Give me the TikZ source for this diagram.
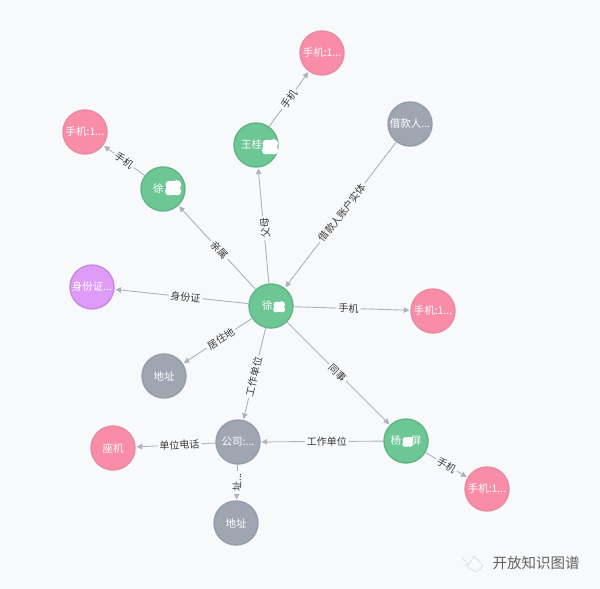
\documentclass[tikz,border=0pt]{standalone}
\usepackage{fontspec}
\setmainfont{Noto Sans CJK SC}
\usetikzlibrary{arrows.meta}
\definecolor{bgc}{HTML}{F8F9FB}
\definecolor{edgec}{HTML}{ADB2BD}
\definecolor{lblc}{HTML}{3A3A3A}
\definecolor{gfill}{HTML}{6DC795}
\definecolor{gline}{HTML}{60B586}
\definecolor{pfill}{HTML}{F98DA8}
\definecolor{pline}{HTML}{E78BA3}
\definecolor{afill}{HTML}{A0A5B2}
\definecolor{aline}{HTML}{979CAA}
\definecolor{vfill}{HTML}{DE9BF7}
\definecolor{vline}{HTML}{C88ADF}
\tikzset{
  ent/.style={circle,minimum size=44pt,inner sep=0pt,line width=1.4pt,text=white,font=\fontsize{10.5}{12}\selectfont},
  person/.style={ent,fill=gfill,draw=gline},
  phone/.style={ent,fill=pfill,draw=pline},
  place/.style={ent,fill=afill,draw=aline},
  card/.style={ent,fill=vfill,draw=vline},
  rel/.style={draw=edgec,line width=0.9pt,-{Triangle[length=5.5pt,width=5.5pt]},shorten >=1pt},
  lab/.style={midway,sloped,fill=bgc,inner sep=2pt,text=lblc,font=\fontsize{10}{11}\selectfont},
  blob/.style={fill=white,draw=none},
}
\begin{document}
\begin{tikzpicture}[x=1pt,y=-1pt]
\useasboundingbox[fill=bgc] (0,0) rectangle (600,589);
\node[person] (c) at (271,306) {徐\kern7.5pt};
\node[person] (w) at (256,145) {王桂\kern9pt};
\node[person] (x) at (163,189) {徐\kern9.5pt};
\node[person] (y) at (406,441) {杨\kern10pt屏};
\node[phone] (pt) at (322,53) {手机:1...};
\node[phone] (pl) at (85,132) {手机:1...};
\node[phone] (pr) at (433,311) {手机:1...};
\node[phone] (pb) at (487,489) {手机:1...};
\node[phone] (z) at (113,448) {座机};
\node[place] (b) at (410,124) {借款人...};
\node[place] (a1) at (164,376) {地址};
\node[place] (co) at (238,442) {公司:...};
\node[place] (a2) at (236,523) {地址};
\node[card] (id) at (92,287) {身份证...};
\draw[rel] (w) -- node[lab] {手机} (pt);
\draw[rel] (x) -- node[lab] {手机} (pl);
\draw[rel] (c) -- node[lab,pos=.47] {亲属} (x);
\draw[rel] (c) -- node[lab,pos=.48,rotate=180,yshift=-1.5pt] {父母} (w);
\draw[rel] (b) -- node[lab,pos=.485] {借款人账户实体} (c);
\draw[rel] (c) -- node[lab,pos=.47] {身份证} (id);
\draw[rel] (c) -- node[lab,pos=.47] {手机} (pr);
\draw[rel] (c) -- node[lab,pos=.45] {居住地} (a1);
\draw[rel] (c) -- node[lab,pos=.53] {工作单位} (co);
\draw[rel] (c) -- node[lab,pos=.49] {同事} (y);
\draw[rel] (y) -- node[lab,pos=.46] {工作单位} (co);
\draw[rel] (co) -- node[lab,pos=.45] {单位电话} (z);
\draw[rel] (co) -- node[lab,pos=.5] {址...} (a2);
\draw[rel] (y) -- node[lab] {手机} (pb);
% masked parts of the names
\foreach \px/\py/\sc in {279/307/.95,270/147/1.3,173/188/1.3,407.5/442/.85}{
  \fill[blob] (\px,\py) circle[radius=5.5*\sc];
  \fill[blob] ({\px+2.8*\sc},{\py-2.5*\sc}) circle[radius=3.6*\sc];
  \fill[blob] ({\px+3.2*\sc},{\py+2.5*\sc}) circle[radius=3.2*\sc];
  \fill[blob] ({\px-3*\sc},{\py+2.6*\sc}) circle[radius=3.2*\sc];
  \fill[blob] ({\px-2.8*\sc},{\py-2.6*\sc}) circle[radius=3*\sc];
}
% watermark
\draw[black!35,densely dotted,line width=0.5pt] (474,556) -- (483,566) -- (476,572) -- (467,567) -- cycle;
\draw[black!35,densely dotted,line width=0.5pt] (461,557) -- (468,563) -- (463,566);
\node[text=black!62,font=\fontsize{14.5}{16}\selectfont,inner sep=0pt] (wm) at (536,563) {开放知识图谱};
\end{tikzpicture}
\end{document}
